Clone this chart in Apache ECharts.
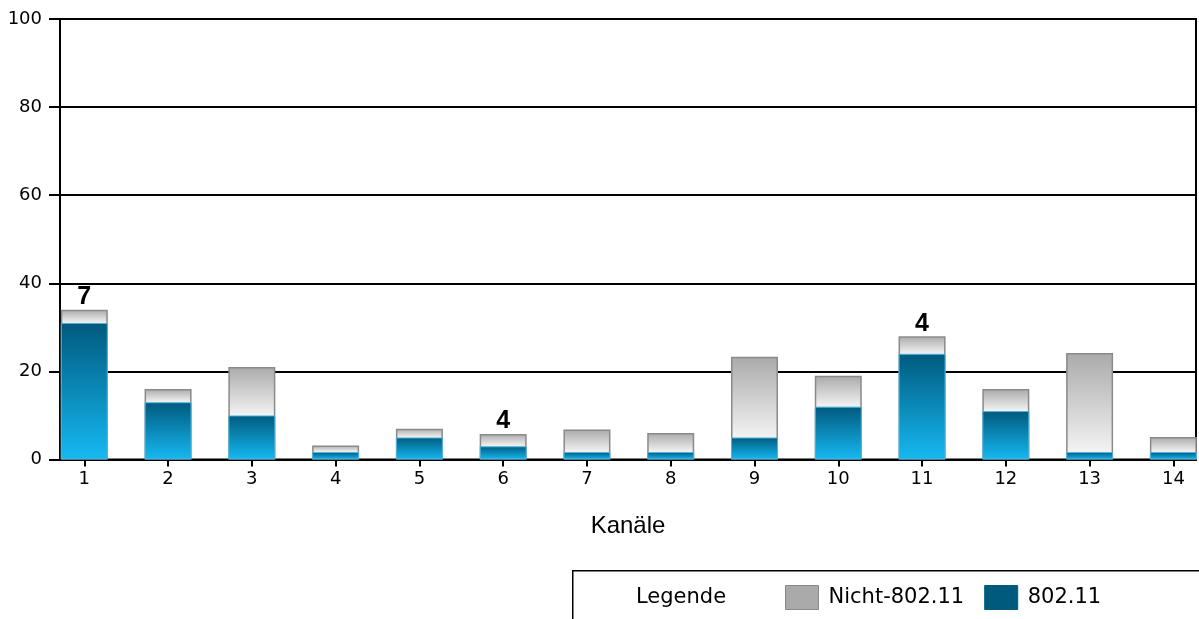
<!DOCTYPE html>
<html>
<head>
<meta charset="utf-8">
<script src="https://cdn.jsdelivr.net/npm/echarts@6/dist/echarts.min.js"></script>
<style>
html,body{margin:0;padding:0;background:#fff;}
#chart{width:1199px;height:619px;}
</style>
</head>
<body>
<div id="chart"></div>
<script>
var channels = [1,2,3,4,5,6,7,8,9,10,11,12,13,14];
var wifi = [31,13,10,1.7,5,3,1.7,1.7,5,12,24,11,1.7,1.7];
var nonWifi = [3,3,11,1.5,2,2.8,5.1,4.3,18.3,7,4,5,22.5,3.4];
var networks = [7,0,0,0,0,4,0,0,0,0,4,0,0,0];
var yTicks = [0,20,40,60,80,100];

var chart = echarts.init(document.getElementById('chart'), null, {renderer:'canvas'});
var font = '"DejaVu Sans", Verdana, sans-serif';

var blueGrad = new echarts.graphic.LinearGradient(0,0,0,1,[
  {offset:0,color:'#005a7e'},{offset:1,color:'#16b9f2'}]);

// top of each stacked column = 802.11 + Nicht-802.11
var totals = channels.map(function(c,i){return wifi[i]+nonWifi[i];});

function grayFor(i){
  var f = nonWifi[i]/totals[i];
  return new echarts.graphic.LinearGradient(0,0,0,1,[
    {offset:0,color:'#aaaaaa'},{offset:f,color:'#f3f3f3'},{offset:1,color:'#f3f3f3'}]);
}

var option = {
  animation:false,
  backgroundColor:'#fff',
  grid:{left:60,right:3,top:19,bottom:159.5,show:true,borderColor:'#000',borderWidth:2,backgroundColor:'transparent'},
  xAxis:{
    type:'value',
    min:0.71,max:14.27,
    name:'Kanäle',nameLocation:'middle',nameGap:55,
    nameTextStyle:{fontFamily:'"Liberation Sans", Arial, sans-serif',fontSize:24,color:'#000'},
    axisLine:{show:true,lineStyle:{color:'#000',width:2}},
    axisTick:{show:true,length:7,lineStyle:{color:'#000',width:2},customValues:channels},
    axisLabel:{fontFamily:font,fontSize:18,color:'#000',margin:11,customValues:channels},
    splitLine:{show:false}
  },
  yAxis:{
    type:'value',min:0,max:100,interval:20,
    axisLine:{show:true,lineStyle:{color:'#000',width:2}},
    axisTick:{show:true,length:11,lineStyle:{color:'#000',width:2}},
    axisLabel:{fontFamily:font,fontSize:18,color:'#000',margin:18},
    splitLine:{show:true,lineStyle:{color:'#000',width:2}}
  },
  legend:{
    left:785,top:585,itemWidth:33,itemHeight:24,itemGap:20,padding:0,
    icon:'rect',
    textStyle:{fontFamily:font,fontSize:21,color:'#000',padding:[0,0,0,5]},
    data:[
      {name:'Nicht-802.11',itemStyle:{color:'#aaaaaa',borderColor:'#888',borderWidth:1}},
      {name:'802.11',itemStyle:{color:'#005a7e',borderColor:'#005a7e',borderWidth:1}}
    ],
    selectedMode:false
  },
  graphic:[
    {type:'rect',left:572,top:570,shape:{width:640,height:60},style:{fill:'#fff',stroke:'#000',lineWidth:1.5},z:-1},
    {type:'text',left:636,top:587,style:{text:'Legende',font:'21px '+font,fill:'#000'}}
  ],
  series:[
    {
      name:'Nicht-802.11',type:'bar',barWidth:47,barGap:'-100%',
      itemStyle:{color:'#aaaaaa',borderColor:'#8a8a8a',borderWidth:1.5},
      label:{show:true,position:'top',distance:0,fontFamily:'"Liberation Sans", Arial, sans-serif',fontWeight:'bold',fontSize:25,color:'#000',
        formatter:function(p){return networks[p.dataIndex]?String(networks[p.dataIndex]):'';}},
      data:channels.map(function(c,i){return {value:[c,totals[i]],itemStyle:{color:grayFor(i)}};})
    },
    {
      name:'802.11',type:'bar',barWidth:47,barGap:'-100%',
      itemStyle:{color:blueGrad,borderColor:'#4fb3dc',borderWidth:1},
      data:channels.map(function(c,i){return [c,wifi[i]];})
    }
  ]
};
chart.setOption(option);
</script>
</body>
</html>
